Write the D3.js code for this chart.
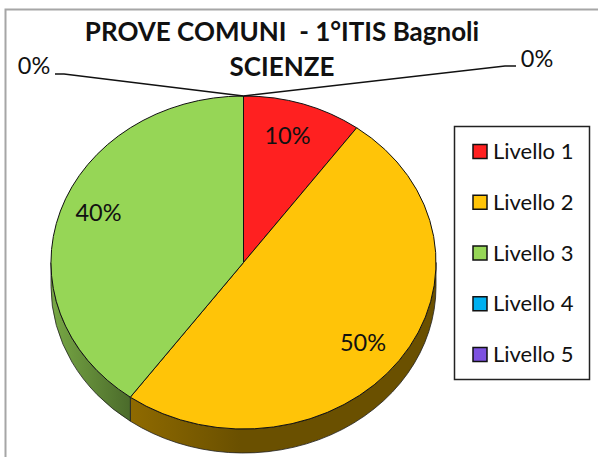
<!DOCTYPE html>
<html><head><meta charset="utf-8">
<script src="https://cdn.jsdelivr.net/npm/d3@7"></script>
<style>html,body{margin:0;padding:0;background:#fff}svg{display:block}text{font-family:Lato,"Open Sans",sans-serif;fill:#111}</style>
</head><body><div id="c"></div>
<script>
const titleLines = ["PROVE COMUNI  - 1°ITIS Bagnoli", "SCIENZE"];
const categories = ["Livello 1","Livello 2","Livello 3","Livello 4","Livello 5"];
const values = [10,50,40,0,0];
const colors = ["#ff2020","#ffc408","#96d656","#00b0f0","#7d52e0"];
const sideColors = ["#7f1010","#6a5000","#4b6b2b","#005878","#3e2970"];

const W=598,H=457,cx=243.5,cy=262.5,rx=192.5,ry=166.5,depth=24;
const svg=d3.select("#c").append("svg").attr("width",W).attr("height",H);
const defs=svg.append("defs");
const gO=defs.append("linearGradient").attr("id","sideO").attr("gradientUnits","userSpaceOnUse")
  .attr("x1",130).attr("x2",240).attr("y1",0).attr("y2",0);
gO.append("stop").attr("offset",0).attr("stop-color","#8f6a00");
gO.append("stop").attr("offset",1).attr("stop-color","#6a5000");
const gG=defs.append("linearGradient").attr("id","sideG").attr("gradientUnits","userSpaceOnUse")
  .attr("x1",51).attr("x2",130).attr("y1",0).attr("y2",0);
gG.append("stop").attr("offset",0).attr("stop-color","#78a845");
gG.append("stop").attr("offset",1).attr("stop-color","#4b6b2b");

svg.append("path").attr("d",`M5.5 ${H}V9.5H${W}`).attr("fill","none").attr("stroke","#a6a6a6").attr("stroke-width",2);

const slices=d3.pie().sort(null).value(d=>d)(values);
const px=d3.scaleLinear().domain([-1,1]).range([cx-rx,cx+rx]);
const py=d3.scaleLinear().domain([-1,1]).range([cy-ry,cy+ry]);
const pt=a=>[px(Math.sin(a)),py(-Math.cos(a))];

// side wall
slices.forEach((d,i)=>{
  if(d.endAngle<=d.startAngle) return;
  const a0=Math.max(d.startAngle,Math.PI/2), a1=Math.min(d.endAngle,Math.PI*1.5);
  if(a1<=a0) return;
  const p0=pt(a0),p1=pt(a1);
  const large=(a1-a0)>Math.PI?1:0;
  svg.append("path")
    .attr("d",`M${p0[0]} ${p0[1]}A${rx} ${ry} 0 ${large} 1 ${p1[0]} ${p1[1]}V${p1[1]+depth}A${rx} ${ry} 0 ${large} 0 ${p0[0]} ${p0[1]+depth}Z`)
    .attr("fill",i===1?"url(#sideO)":i===2?"url(#sideG)":sideColors[i])
    .attr("stroke","#222").attr("stroke-width",0.8);
});

// top face
const arc=d3.arc().innerRadius(0).outerRadius(1);
const topFace=svg.append("g").attr("transform",`translate(${cx},${cy}) scale(${rx},${ry})`);
topFace.selectAll("path").data(slices.filter(d=>d.value>0)).join("path")
  .attr("d",arc).attr("fill",d=>colors[d.index])
  .attr("stroke","#111").attr("stroke-width",1).attr("vector-effect","non-scaling-stroke");

// data labels
const labelPos=[[287.5,136],[363,343],[98.5,213],[34,66],[537,59]];
values.forEach((v,i)=>{
  svg.append("text").attr("x",labelPos[i][0]).attr("y",labelPos[i][1]).attr("dy","0.35em")
    .attr("text-anchor","middle").attr("font-size",23.5).text(v+"%");
});

// leader lines for the zero slices
const apex=pt(0);
const line=d3.line();
svg.append("path").attr("d",line([[55,74],[64,74],apex])).attr("fill","none").attr("stroke","#111").attr("stroke-width",1.6);
svg.append("path").attr("d",line([apex,[505,66],[516,66]])).attr("fill","none").attr("stroke","#111").attr("stroke-width",1.6);

// title
svg.selectAll("text.t").data(titleLines).join("text").attr("class","t")
  .attr("x",282).attr("y",(d,i)=>41+i*35).attr("text-anchor","middle")
  .attr("font-size",26).attr("font-weight",700).style("white-space","pre").text(d=>d);

// legend
svg.append("rect").attr("x",454.5).attr("y",126.5).attr("width",135).attr("height",253)
  .attr("fill","#fff").attr("stroke","#222").attr("stroke-width",1.5);
const ly=d3.scalePoint().domain(categories).range([151.5,354.5]);
categories.forEach((c,i)=>{
  const y=ly(c);
  svg.append("rect").attr("x",473).attr("y",y-7).attr("width",14).attr("height",14)
    .attr("fill",colors[i]).attr("stroke","#111").attr("stroke-width",1.5);
  svg.append("text").attr("x",493).attr("y",y).attr("dy","0.35em").attr("font-size",22).text(c);
});
</script></body></html>
